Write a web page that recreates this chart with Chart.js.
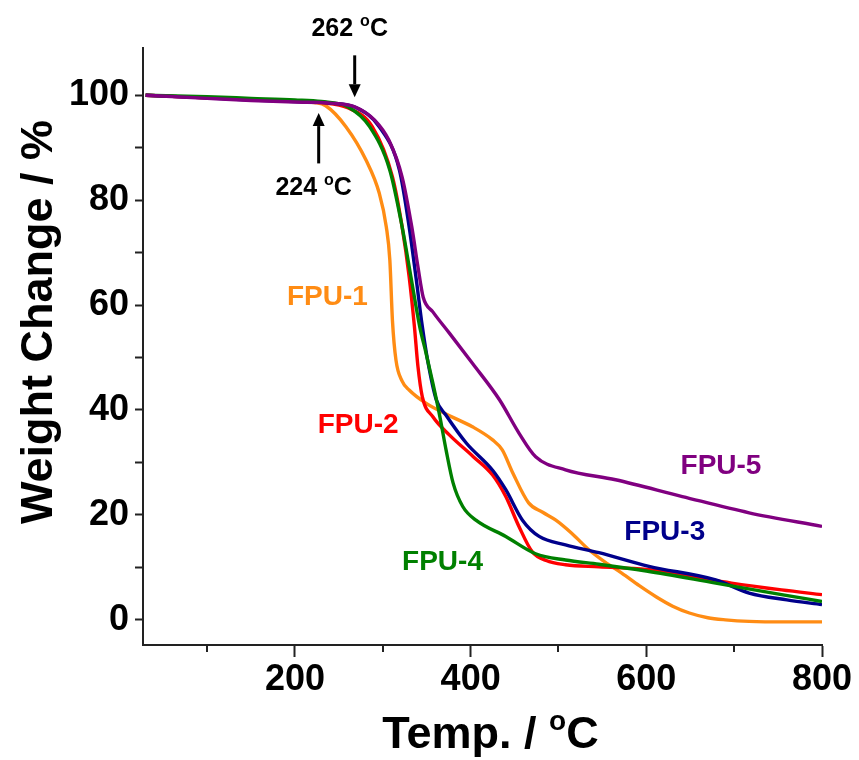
<!DOCTYPE html>
<html>
<head>
<meta charset="utf-8">
<script src="https://cdn.jsdelivr.net/npm/chart.js@4.4.1/dist/chart.umd.min.js"></script>
<style>
    html, body { margin: 0; padding: 0; background: #fff; }
</style>
</head>
<body>
<canvas id="graficoTGA" width="859" height="760"></canvas>
<script>
// ================== DATOS ==================

const fpu1Temp = [30, 100, 150, 200, 222, 235, 258, 281, 296, 304, 308, 311, 315, 322, 330, 349, 376, 402, 425, 436, 448, 466, 482, 497, 515, 535, 553, 572, 592, 611, 630, 649, 670, 690, 717, 760, 800];
const fpu1Peso = [100, 99.5, 99.2, 98.9, 98.6, 98.0, 94, 87.6, 81.3, 74.9, 68.6, 57, 49.5, 45.5, 43.8, 41.3, 38.9, 36.8, 34.3, 32.4, 28, 22.3, 20.5, 19, 16.5, 13.3, 11, 8.9, 6.5, 4.4, 2.6, 1.3, 0.4, 0, -0.3, -0.4, -0.4];

const fpu2Temp = [30, 100, 150, 200, 230, 260, 288, 311, 322, 330, 336, 340, 345, 357, 376, 403, 425, 440, 455, 470, 486, 508, 546, 600, 641, 697, 754, 800];
const fpu2Peso = [100, 99.5, 99.2, 98.9, 98.6, 97.6, 94, 84.4, 74.9, 65.4, 55.9, 48.3, 42.5, 38.7, 35.2, 31.1, 27.6, 23.5, 17.8, 13, 11.3, 10.5, 10.1, 9.6, 8.6, 7, 5.7, 4.8];

const fpu3Temp = [30, 100, 150, 200, 240, 270, 296, 319, 330, 338, 345, 351, 361, 372, 395, 425, 440, 459, 478, 508, 546, 603, 679, 717, 760, 800];
const fpu3Peso = [100, 99.5, 99.1, 98.8, 98.5, 97.6, 94, 85.7, 74.9, 65, 55.9, 49.5, 41.9, 39.0, 33.7, 28.5, 24.8, 19, 15.9, 14.3, 12.8, 10.2, 7.6, 5.1, 3.8, 2.9];

const fpu4Temp = [30, 100, 150, 200, 230, 260, 285, 308, 322, 332, 342, 349, 357, 365, 372, 380, 391, 406, 440, 474, 508, 546, 600, 679, 754, 800];
const fpu4Peso = [100, 99.7, 99.4, 99.1, 98.8, 97.8, 94, 85.7, 74.9, 65.4, 55.9, 51, 45.1, 38.7, 32.4, 26.1, 21.6, 19, 15.9, 12.6, 11.4, 10.6, 9.3, 7, 4.8, 3.5];

const fpu5Temp = [30, 100, 150, 200, 240, 268, 291, 307, 322, 333, 340, 346, 357, 376, 402, 433, 455, 474, 508, 565, 641, 717, 800];
const fpu5Peso = [100, 99.4, 99.0, 98.7, 98.5, 97.8, 95.2, 91.4, 84.4, 74.9, 67.3, 61.5, 58.7, 54.6, 48.9, 41.9, 35.6, 31.1, 28.6, 26.7, 23.5, 20.4, 17.8];

// ticks de los ejes
const ticksX = [100, 200, 300, 400, 500, 600, 700, 800];
const ticksY = [0, 10, 20, 30, 40, 50, 60, 70, 80, 90, 100];

// etiquetas de cada curva (posicion en datos)
const etiquetas = ["FPU-1", "FPU-2", "FPU-3", "FPU-4", "FPU-5"];
const etiquetaX = [237, 272, 621, 368, 685];
const etiquetaY = [61.5, 37.1, 16.6, 10.9, 29.3];

// flechas de temperatura de inicio
const flechaTexto = ["262", "224"];
const flechaX = [268, 227];
const flechaDesde = [107.6, 87];
const flechaHasta = [99.6, 96.6];
const flechaTextoY = [112.6, 82.3];

const COLORES = ["#ff8c14", "#ff0000", "#00008b", "#008000", "#800080"];
const FUENTE = "'Liberation Sans', Arial, sans-serif";

function unirPuntos(xs, ys) {
    return xs.map((x, i) => ({ x: x, y: ys[i] }));
}

const series = [
    unirPuntos(fpu1Temp, fpu1Peso),
    unirPuntos(fpu2Temp, fpu2Peso),
    unirPuntos(fpu3Temp, fpu3Peso),
    unirPuntos(fpu4Temp, fpu4Peso),
    unirPuntos(fpu5Temp, fpu5Peso)
];
const ordenDibujo = [5, 4, 3, 2, 1];

// ================== PLUGIN ANOTACIONES ==================

// escribe "<antes> oC" con la o como superindice, centrado en cx
function textoGrados(ctx, antes, cx, cy, size) {
    ctx.save();
    ctx.fillStyle = "#000";
    ctx.textBaseline = "middle";
    ctx.textAlign = "left";
    const fGrande = "bold " + size + "px " + FUENTE;
    const fChica = "bold " + Math.round(size * 0.62) + "px " + FUENTE;
    ctx.font = fGrande;
    const wa = ctx.measureText(antes).width;
    const wc = ctx.measureText("C").width;
    ctx.font = fChica;
    const wo = ctx.measureText("o").width;
    const x = cx - (wa + wo + wc) / 2;
    ctx.font = fGrande;
    ctx.fillText(antes, x, cy);
    ctx.font = fChica;
    ctx.fillText("o", x + wa, cy - size * 0.3);
    ctx.font = fGrande;
    ctx.fillText("C", x + wa + wo, cy);
    ctx.restore();
}

function flecha(ctx, x, y0, y1) {
    const dir = y1 > y0 ? 1 : -1;
    const cab = 13;
    ctx.save();
    ctx.strokeStyle = "#000";
    ctx.fillStyle = "#000";
    ctx.lineWidth = 3;
    ctx.beginPath();
    ctx.moveTo(x, y0);
    ctx.lineTo(x, y1 - dir * cab);
    ctx.stroke();
    ctx.beginPath();
    ctx.moveTo(x, y1);
    ctx.lineTo(x - 6, y1 - dir * cab);
    ctx.lineTo(x + 6, y1 - dir * cab);
    ctx.closePath();
    ctx.fill();
    ctx.restore();
}

const pluginAnotaciones = {
    id: "anotaciones",
    afterDraw(chart) {
        const ctx = chart.ctx;
        const sx = chart.scales.x;
        const sy = chart.scales.y;

        // ticks menores del eje x (mas cortos)
        ctx.save();
        ctx.strokeStyle = "#222";
        ctx.lineWidth = 2;
        ticksX.forEach(v => {
            if (v % 200 !== 0) {
                const px = Math.round(sx.getPixelForValue(v));
                ctx.beginPath();
                ctx.moveTo(px, sy.bottom);
                ctx.lineTo(px, sy.bottom + 7);
                ctx.stroke();
            }
        });
        ctx.restore();

        // etiquetas de curvas
        ctx.save();
        ctx.font = "bold 28px " + FUENTE;
        ctx.textAlign = "center";
        ctx.textBaseline = "middle";
        etiquetas.forEach((t, i) => {
            ctx.fillStyle = COLORES[i];
            ctx.fillText(t, sx.getPixelForValue(etiquetaX[i]), sy.getPixelForValue(etiquetaY[i]));
        });
        ctx.restore();

        // flechas
        flechaTexto.forEach((t, i) => {
            const px = sx.getPixelForValue(flechaX[i]);
            flecha(ctx, px, sy.getPixelForValue(flechaDesde[i]), sy.getPixelForValue(flechaHasta[i]));
            textoGrados(ctx, t + " ", px - 5, sy.getPixelForValue(flechaTextoY[i]), 25);
        });

        // titulos de ejes
        textoGrados(ctx, "Temp. / ", (sx.left + sx.right) / 2 + 8, 736, 45);
        ctx.save();
        ctx.translate(40, 322);
        ctx.rotate(-Math.PI / 2);
        ctx.font = "bold 45px " + FUENTE;
        ctx.fillStyle = "#000";
        ctx.textAlign = "center";
        ctx.textBaseline = "middle";
        ctx.fillText("Weight Change / %", 0, 0);
        ctx.restore();
    }
};

// ================== GRAFICO ==================

const ctxGrafico = document.getElementById("graficoTGA");

new Chart(ctxGrafico, {
    type: "line",
    data: {
        datasets: series.map((pts, i) => ({
            label: etiquetas[i],
            data: pts,
            borderColor: COLORES[i],
            backgroundColor: COLORES[i],
            borderWidth: 3.4,
            pointRadius: 0,
            fill: false,
            cubicInterpolationMode: "monotone",
            order: ordenDibujo[i]
        }))
    },
    options: {
        responsive: false,
        animation: false,
        layout: { padding: { left: 0, right: 37, top: 48, bottom: 0 } },
        plugins: {
            legend: { display: false },
            tooltip: { enabled: false }
        },
        scales: {
            x: {
                type: "linear",
                min: 27,
                max: 800,
                afterFit: s => { s.height = 115; },
                afterBuildTicks: s => { s.ticks = ticksX.map(v => ({ value: v })); },
                border: { display: true, color: "#222", width: 2 },
                grid: {
                    drawOnChartArea: false,
                    tickLength: 12,
                    tickWidth: 2,
                    tickColor: c => (c.tick && c.tick.value % 200 === 0) ? "#222" : "rgba(0,0,0,0)"
                },
                ticks: {
                    color: "#000",
                    padding: 1,
                    maxRotation: 0,
                    font: { family: FUENTE, size: 36, weight: "bold" },
                    callback: v => (v % 200 === 0) ? String(v) : ""
                }
            },
            y: {
                type: "linear",
                min: -4.8,
                max: 109,
                afterFit: s => { s.width = 143; },
                afterBuildTicks: s => { s.ticks = ticksY.map(v => ({ value: v })); },
                border: { display: true, color: "#222", width: 2 },
                grid: {
                    drawOnChartArea: false,
                    tickLength: 8,
                    tickWidth: 2,
                    tickColor: "#222"
                },
                ticks: {
                    color: "#000",
                    padding: 6,
                    font: { family: FUENTE, size: 36, weight: "bold" },
                    callback: v => (v % 20 === 0) ? String(v) : ""
                }
            }
        }
    },
    plugins: [pluginAnotaciones]
});
</script>
</body>
</html>
